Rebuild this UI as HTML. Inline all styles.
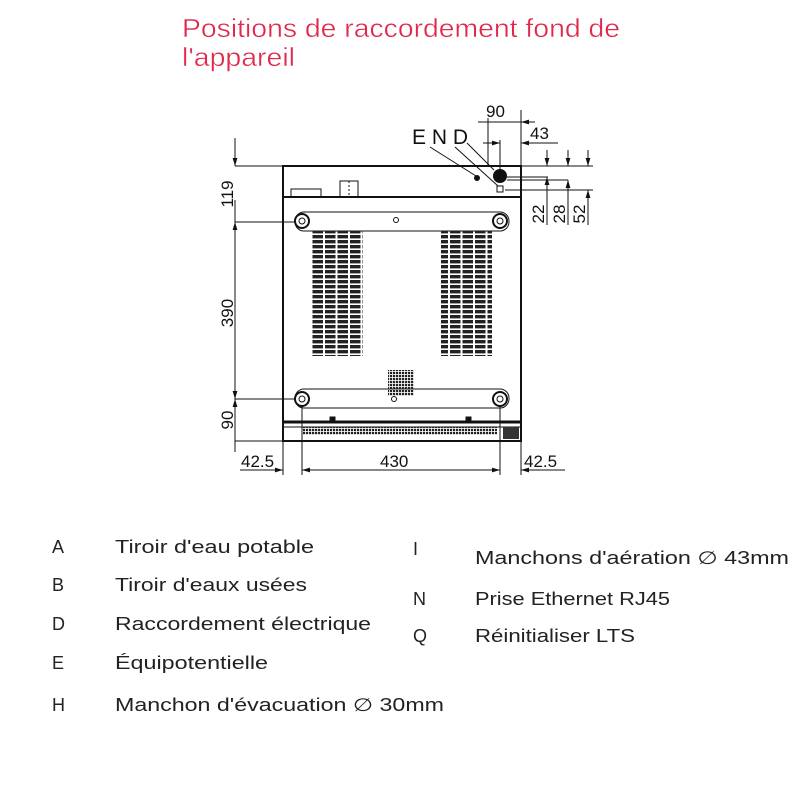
<!DOCTYPE html>
<html><head><meta charset="utf-8"><style>html,body{margin:0;padding:0;background:#fff}svg{display:block}</style></head>
<body>
<svg width="800" height="800" viewBox="0 0 800 800" xmlns="http://www.w3.org/2000/svg" font-family="Liberation Sans, sans-serif">
<defs>
<marker id="ar" viewBox="0 0 10 10" refX="10" refY="5" markerWidth="8" markerHeight="8" orient="auto-start-reverse" markerUnits="userSpaceOnUse"><path d="M0,2 L10,5 L0,8z" fill="#111"/></marker>
<pattern id="grill" width="12.5" height="5" patternUnits="userSpaceOnUse"><rect x="0" y="0" width="10.5" height="3.4" fill="#222"/></pattern>
<pattern id="sq" width="3" height="3" patternUnits="userSpaceOnUse"><rect width="2.2" height="2.2" fill="#222"/></pattern>
</defs>
<g fill="#e0284a" font-size="26" stroke="#fff" stroke-width="0.4">
<text x="182" y="37" textLength="438" lengthAdjust="spacingAndGlyphs">Positions de raccordement fond de</text>
<text x="182" y="66" textLength="113" lengthAdjust="spacingAndGlyphs">l'appareil</text>
</g>
<g stroke="#111" fill="none" stroke-width="1">
<rect x="283" y="166" width="238" height="275" stroke-width="2"/>
<line x1="283" y1="197" x2="521" y2="197" stroke-width="2"/>
<rect x="291" y="189" width="30" height="8"/>
<rect x="340" y="181" width="18" height="16"/>
<line x1="349" y1="181" x2="349" y2="197" stroke-dasharray="2 2"/>
<rect x="295" y="212" width="214" height="19" rx="9"/>
<rect x="295" y="389" width="214" height="19" rx="9"/>
<circle cx="302" cy="221" r="7" stroke-width="2"/><circle cx="302" cy="221" r="3"/>
<circle cx="500" cy="221" r="7" stroke-width="2"/><circle cx="500" cy="221" r="3"/>
<circle cx="302" cy="399" r="7" stroke-width="2"/><circle cx="302" cy="399" r="3"/>
<circle cx="500" cy="399" r="7" stroke-width="2"/><circle cx="500" cy="399" r="3"/>
<circle cx="396" cy="220" r="2.5"/>
<circle cx="394" cy="399" r="2.5"/>
<line x1="283" y1="422" x2="521" y2="422" stroke-width="3"/>
<line x1="283" y1="427" x2="521" y2="427"/>
<rect x="302" y="427" width="195" height="8" fill="url(#sq)" stroke="none"/>
<rect x="503" y="427" width="16" height="12" fill="#333" stroke="none"/>
<rect x="330" y="417" width="5" height="5" fill="#111"/>
<rect x="466" y="417" width="5" height="5" fill="#111"/>
<line x1="235" y1="138" x2="235" y2="166" marker-end="url(#ar)"/>
<line x1="235" y1="222" x2="235" y2="399" marker-start="url(#ar)" marker-end="url(#ar)"/>
<line x1="235" y1="399" x2="235" y2="441" marker-start="url(#ar)"/>
<line x1="235" y1="441" x2="235" y2="452" />
<line x1="235" y1="222" x2="235" y2="200" />
<line x1="235" y1="166" x2="283" y2="166"/>
<line x1="235" y1="222" x2="295" y2="222"/>
<line x1="235" y1="399" x2="295" y2="399"/>
<line x1="235" y1="441" x2="283" y2="441"/>
<line x1="283" y1="441" x2="283" y2="475"/>
<line x1="302" y1="406" x2="302" y2="475"/>
<line x1="500" y1="406" x2="500" y2="475"/>
<line x1="521" y1="441" x2="521" y2="475"/>
<line x1="240" y1="470" x2="283" y2="470" marker-end="url(#ar)"/>
<line x1="302" y1="470" x2="500" y2="470" marker-start="url(#ar)" marker-end="url(#ar)"/>
<line x1="521" y1="470" x2="565" y2="470" marker-start="url(#ar)"/>
<line x1="521" y1="110" x2="521" y2="166"/>
<line x1="488" y1="118" x2="488" y2="166"/>
<line x1="500" y1="140" x2="500" y2="170"/>
<line x1="478" y1="122" x2="521" y2="122"/>
<line x1="521" y1="122" x2="535" y2="122" marker-start="url(#ar)"/>
<line x1="483" y1="143" x2="500" y2="143" marker-end="url(#ar)"/>
<line x1="521" y1="143" x2="558" y2="143" marker-start="url(#ar)"/>
<line x1="430" y1="147" x2="476" y2="176"/>
<line x1="455" y1="147" x2="498" y2="186"/>
<line x1="467" y1="143" x2="494" y2="170"/>
<line x1="521" y1="166" x2="593" y2="166"/>
<line x1="507" y1="177" x2="548" y2="177"/>
<line x1="507" y1="180" x2="568" y2="180"/>
<line x1="505" y1="190" x2="593" y2="190"/>
<line x1="547" y1="150" x2="547" y2="166" marker-end="url(#ar)"/>
<line x1="547" y1="177" x2="547" y2="225" marker-start="url(#ar)"/>
<line x1="568" y1="150" x2="568" y2="166" marker-end="url(#ar)"/>
<line x1="568" y1="180" x2="568" y2="225" marker-start="url(#ar)"/>
<line x1="588" y1="150" x2="588" y2="166" marker-end="url(#ar)"/>
<line x1="588" y1="190" x2="588" y2="225" marker-start="url(#ar)"/>
</g>
<rect x="312" y="231" width="51" height="125" fill="url(#grill)"/>
<rect x="441" y="231" width="51" height="125" fill="url(#grill)"/>
<rect x="388" y="370" width="26" height="26" fill="url(#sq)"/>
<circle cx="500" cy="176" r="7" fill="#111"/>
<circle cx="477" cy="178" r="3" fill="#111"/>
<rect x="497" y="186" width="6" height="6" fill="#fff" stroke="#111"/>
<g fill="#111" font-size="17">
<text x="486" y="117">90</text>
<text x="530" y="139">43</text>
<text x="412" y="144" font-size="21">E N D</text>
<text transform="translate(233,194) rotate(-90)" text-anchor="middle">119</text>
<text transform="translate(233,313) rotate(-90)" text-anchor="middle">390</text>
<text transform="translate(233,420) rotate(-90)" text-anchor="middle">90</text>
<text transform="translate(544,214) rotate(-90)" text-anchor="middle">22</text>
<text transform="translate(565,214) rotate(-90)" text-anchor="middle">28</text>
<text transform="translate(585,214) rotate(-90)" text-anchor="middle">52</text>
<text x="241" y="467">42.5</text>
<text x="380" y="467">430</text>
<text x="524" y="467">42.5</text>
</g>
<g fill="#222" font-size="18">
<text x="52" y="553">A</text><text x="115" y="553" textLength="199" lengthAdjust="spacingAndGlyphs">Tiroir d'eau potable</text>
<text x="52" y="591">B</text><text x="115" y="591" textLength="192" lengthAdjust="spacingAndGlyphs">Tiroir d'eaux usées</text>
<text x="52" y="630">D</text><text x="115" y="630" textLength="256" lengthAdjust="spacingAndGlyphs">Raccordement électrique</text>
<text x="52" y="669">E</text><text x="115" y="669" textLength="153" lengthAdjust="spacingAndGlyphs">Équipotentielle</text>
<text x="52" y="711">H</text><text x="115" y="711" textLength="329" lengthAdjust="spacingAndGlyphs">Manchon d'évacuation ∅ 30mm</text>
<text x="413" y="555">I</text><text x="475" y="564" textLength="314" lengthAdjust="spacingAndGlyphs">Manchons d'aération ∅ 43mm</text>
<text x="413" y="605">N</text><text x="475" y="605" textLength="195" lengthAdjust="spacingAndGlyphs">Prise Ethernet RJ45</text>
<text x="413" y="642">Q</text><text x="475" y="642" textLength="160" lengthAdjust="spacingAndGlyphs">Réinitialiser LTS</text>
</g>
</svg>
</body></html>
